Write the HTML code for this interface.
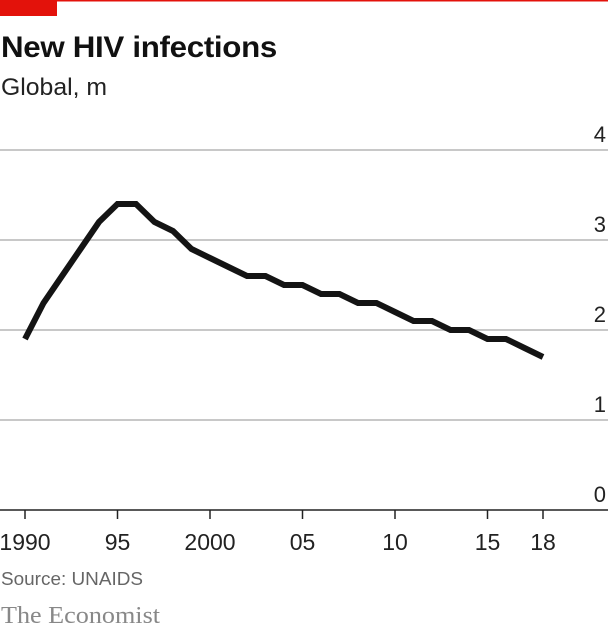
<!DOCTYPE html>
<html><head><meta charset="utf-8">
<style>
body{margin:0;background:#fff;width:608px;height:632px;overflow:hidden;font-family:"Liberation Sans",sans-serif}
svg{display:block}
</style></head>
<body>
<svg width="608" height="632" id="c">
<rect x="0" y="0" width="608" height="1.5" fill="#e3120b"/>
<rect x="0" y="0" width="57" height="16" fill="#e3120b"/>
<text x="1" y="57" font-size="30" font-weight="bold" fill="#111" letter-spacing="-0.3" textLength="276" lengthAdjust="spacingAndGlyphs">New HIV infections</text>
<text x="1" y="95" font-size="24" fill="#222" textLength="106" lengthAdjust="spacingAndGlyphs">Global, m</text>
<g id="grid"></g>
<g id="xt"></g>
<text x="1" y="585" font-size="18" fill="#666" textLength="142" lengthAdjust="spacingAndGlyphs">Source: UNAIDS</text>
<text x="1" y="623" font-size="24" fill="#888" font-family="Liberation Serif, serif" textLength="159" lengthAdjust="spacingAndGlyphs">The Economist</text>
</svg>
<script>
const years=[1990,1991,1992,1993,1994,1995,1996,1997,1998,1999,2000,2001,2002,2003,2004,2005,2006,2007,2008,2009,2010,2011,2012,2013,2014,2015,2016,2017,2018];
const infections=[1.9,2.3,2.6,2.9,3.2,3.4,3.4,3.2,3.1,2.9,2.8,2.7,2.6,2.6,2.5,2.5,2.4,2.4,2.3,2.3,2.2,2.1,2.1,2.0,2.0,1.9,1.9,1.8,1.7];
const yTicks=[0,1,2,3,4];
const xTickYears=[1990,1995,2000,2005,2010,2015,2018];
const xTickLabels=["1990","95","2000","05","10","15","18"];
const NS="http://www.w3.org/2000/svg";
const svg=document.getElementById('c');
const x=v=>25+(v-1990)*(518/28);
const y=v=>510-v*90;
const g=document.getElementById('grid');
yTicks.forEach(t=>{
  const l=document.createElementNS(NS,'line');
  l.setAttribute('x1',0);l.setAttribute('x2',608);
  l.setAttribute('y1',y(t));l.setAttribute('y2',y(t));
  l.setAttribute('stroke',t===0?'#222':'#c8c8c8');l.setAttribute('stroke-width',t===0?1.5:2);
  
  
  g.appendChild(l);
  const tx=document.createElementNS(NS,'text');
  tx.setAttribute('x',606);tx.setAttribute('y',y(t)-8);
  tx.setAttribute('text-anchor','end');tx.setAttribute('font-size','22');tx.setAttribute('fill','#222');
  tx.textContent=t;
  
  
  g.appendChild(tx);
});
const xt=document.getElementById('xt');
xTickYears.forEach((yr,i)=>{
  const l=document.createElementNS(NS,'line');
  l.setAttribute('x1',x(yr));l.setAttribute('x2',x(yr));
  l.setAttribute('y1',510);l.setAttribute('y2',519);
  l.setAttribute('stroke','#222');l.setAttribute('stroke-width',1.5);
  
  
  xt.appendChild(l);
  const tx=document.createElementNS(NS,'text');
  tx.setAttribute('x',x(yr));tx.setAttribute('y',550);
  tx.setAttribute('text-anchor','middle');tx.setAttribute('font-size','23');tx.setAttribute('fill','#222');
  tx.textContent=xTickLabels[i];
  
  
  xt.appendChild(tx);
});
const p=document.createElementNS(NS,'polyline');
p.setAttribute('points',years.map((yr,i)=>x(yr)+','+y(infections[i])).join(' '));
p.setAttribute('fill','none');p.setAttribute('stroke','#141414');p.setAttribute('stroke-width','6');
p.setAttribute('stroke-linejoin','miter');


svg.appendChild(p);
</script>
</body></html>
